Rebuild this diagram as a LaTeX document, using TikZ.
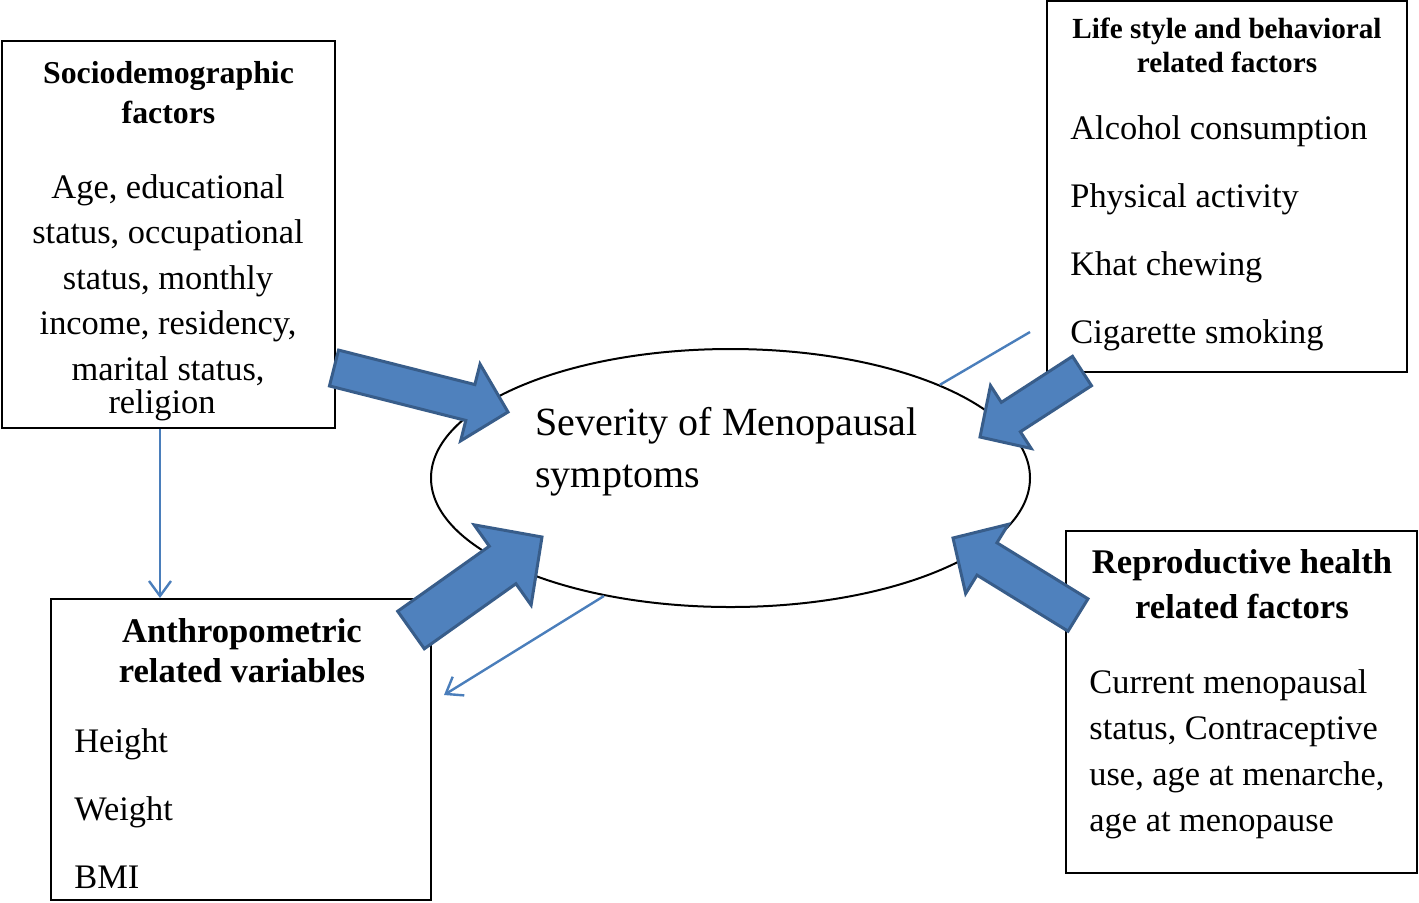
\documentclass[tikz,border=0pt]{standalone}
\usepackage{fontspec}
\setmainfont{Liberation Serif}
\usetikzlibrary{calc,shapes.geometric,arrows.meta}
\definecolor{arrfill}{HTML}{4F81BD}
\definecolor{arrdraw}{HTML}{385D8A}
\definecolor{linkblue}{HTML}{4A7EBB}
\newcommand\fatarrow[3]{%
	\draw[fat] let \p3=($(#2)!{1.05*#3}!(#1)$) in
		($(#1)!{#3/2}!90:(#2)$) -- ($(\x3,\y3)!{#3/2}!-90:(#1)$) -- ($(\x3,\y3)!{1.07*#3}!-90:(#1)$) -- (#2)
		-- ($(\x3,\y3)!{1.07*#3}!90:(#1)$) -- ($(\x3,\y3)!{#3/2}!90:(#1)$) -- ($(#1)!{#3/2}!-90:(#2)$) -- cycle;}
\begin{document}
\begin{tikzpicture}[x=0.5pt,y=-0.5pt,
		box/.style={draw, line width=1pt, inner sep=0pt},
		title/.style={font=\bfseries\fontsize{14.6}{17}\selectfont, inner sep=0pt},
		bigtitle/.style={font=\bfseries\fontsize{17.3}{20}\selectfont, inner sep=0pt},
		item/.style={font=\fontsize{17.2}{20}\selectfont, inner sep=0pt},
		fat/.style={fill=arrfill, draw=arrdraw, line width=1.5pt, line join=miter},
		link/.style={draw=linkblue, line width=1.2pt}]
	\useasboundingbox (0,0) rectangle (1419,902);
	\node[box, minimum width=166.5pt, minimum height=193.5pt] (socio) at (168.5,234.5) {};
	\node[box, minimum width=180pt, minimum height=185.5pt] (life) at (1227,186.75) {};
	\node[box, minimum width=190pt, minimum height=150.5pt] (anthro) at (241,749.5) {};
	\node[box, minimum width=175.5pt, minimum height=171pt] (repro) at (1241.5,702) {};
	\node[draw, ellipse, line width=1pt, minimum width=299.5pt, minimum height=129pt] (sev) at (730.5,478) {};
	\coordinate (c1) at (160,0);
	\coordinate (a2end) at (444,695);
	\coordinate (l3end) at (1030,332);
	\draw[link, -{Straight Barb[length=7.5pt,width=11pt]}] (socio.south -| c1) -- (anthro.north -| c1);
	\draw[link, -{Straight Barb[length=7.5pt,width=11pt]}] (sev.223) -- (a2end);
	\draw[link] (sev.24) -- (l3end);
	\coordinate (t1) at (334,368); \coordinate (h1) at (508,412);
	\coordinate (t2) at (1082,371); \coordinate (h2) at (980,437);
	\coordinate (t3) at (411,630); \coordinate (h3) at (542,537);
	\coordinate (t4) at (1078,615); \coordinate (h4) at (953,538);
	\fatarrow{t1}{h1}{18.5pt}
	\fatarrow{t2}{h2}{17.5pt}
	\fatarrow{t3}{h3}{23pt}
	\fatarrow{t4}{h4}{19pt}
	\node[title, font=\bfseries\fontsize{15.9}{19}\selectfont, anchor=base] (sociot1) at (168.5,83) {Sociodemographic};
	\node[title, font=\bfseries\fontsize{15.9}{19}\selectfont, anchor=base] (sociot2) at (168.5,123) {factors};
	\foreach \t [count=\i] in {{Age, educational},{status, occupational},{status, monthly},{income, residency,},{marital status,}}
		\node[item, anchor=base] (socio\i) at (168,{198+45.5*(\i-1)}) {\t};
	\node[item, anchor=base] (socio6) at (162,413) {religion};
	\node[title, anchor=base] (lifet1) at (1227,38) {Life style and behavioral};
	\node[title, anchor=base] (lifet2) at (1227,72) {related factors};
	\foreach \t [count=\i] in {Alcohol consumption,Physical activity,Khat chewing,Cigarette smoking}
		\node[item, anchor=base west] (life\i) at (1070,{139+68*(\i-1)}) {\t};
	\node[item, font=\fontsize{20}{24}\selectfont, anchor=base west] (sevt1) at (535,435) {Severity of Menopausal};
	\node[item, font=\fontsize{20}{24}\selectfont, anchor=base west] (sevt2) at (535,487) {symptoms};
	\node[bigtitle, anchor=base] (anthrot1) at (242,642) {Anthropometric};
	\node[bigtitle, anchor=base] (anthrot2) at (242,682) {related variables};
	\foreach \t [count=\i] in {Height,Weight,BMI}
		\node[item, anchor=base west] (anthro\i) at (74,{752+68*(\i-1)}) {\t};
	\node[bigtitle, anchor=base] (reprot1) at (1242,573) {Reproductive health};
	\node[bigtitle, anchor=base] (reprot2) at (1242,618) {related factors};
	\foreach \t [count=\i] in {Current menopausal,{status, Contraceptive},{use, age at menarche,},age at menopause}
		\node[item, anchor=base west] (repro\i) at (1089,{693+46.3*(\i-1)}) {\t};
\end{tikzpicture}
\end{document}
